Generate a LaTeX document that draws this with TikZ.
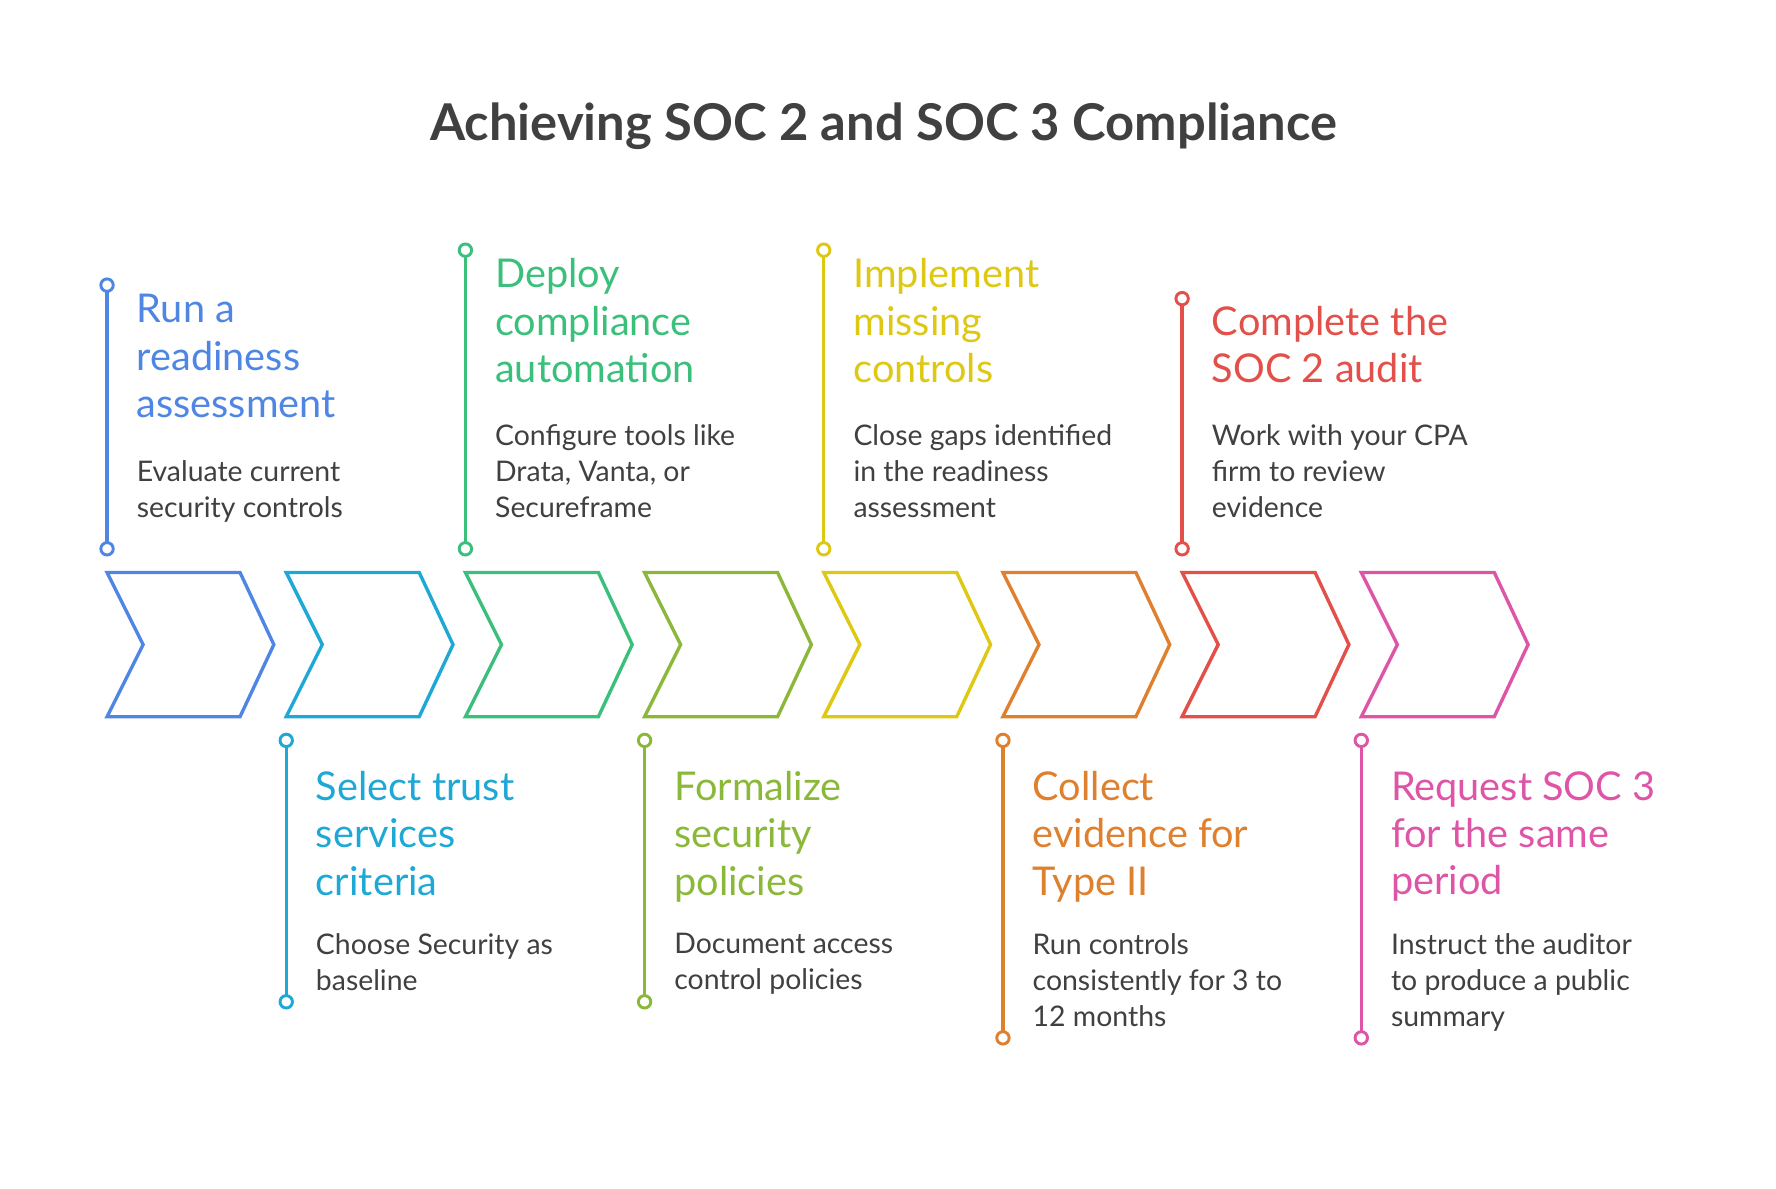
\documentclass[tikz,border=0pt]{standalone}
\usepackage{fontspec}
\setmainfont{Lato}
\definecolor{c1}{HTML}{4F86E4}
\definecolor{c2}{HTML}{1EA8D6}
\definecolor{c3}{HTML}{3BC07C}
\definecolor{c4}{HTML}{8CB83A}
\definecolor{c5}{HTML}{DEC814}
\definecolor{c6}{HTML}{DE802E}
\definecolor{c7}{HTML}{E35049}
\definecolor{c8}{HTML}{DE55A8}
\definecolor{txt}{HTML}{404040}
\tikzset{
 ttl/.style={anchor=north west,inner sep=0,align=left,font=\fontsize{17.6}{21}\selectfont},
 dsc/.style={anchor=north west,inner sep=0,align=left,text=txt,font=\fontsize{12.6}{16}\selectfont},
 stem/.style={line width=1.5pt},
 dot/.style={circle,line width=1.3pt,fill=white,inner sep=0,minimum size=5.5pt},
 chev/.style={line width=1.5pt,line join=miter}
}
\begin{document}
\begin{tikzpicture}[x=0.5pt,y=-0.5pt]
\useasboundingbox (0,0) rectangle (1576,1055);
\node[font=\fontsize{22.5}{26}\selectfont\bfseries,text=txt] (title) at (784,112) {Achieving SOC 2 and SOC 3 Compliance};
\foreach \i/\c in {0/c1,1/c2,2/c3,3/c4,4/c5,5/c6,6/c7,7/c8}{
  \pgfmathsetmacro{\l}{95+159*\i}
  \draw[chev,\c] (\l,508) -- ++(118,0) -- ++(30,64) -- ++(-30,64) -- ++(-118,0) -- ++(32,-64) -- cycle;
}
% top items
\foreach \x/\t/\c/\ty/\dy/\tt/\dd in {
 95/253/c1/261/408/{Run a\\readiness\\assessment}/{Evaluate current\\security controls},
 413/222/c3/229/376/{Deploy\\compliance\\automation}/{Configure tools like\\Drata, Vanta, or\\Secureframe},
 731/222/c5/229/376/{Implement\\missing\\controls}/{Close gaps identified\\in the readiness\\assessment},
 1049/265/c7/271/376/{Complete the\\SOC 2 audit}/{Work with your CPA\\firm to review\\evidence}}{
 \coordinate (a) at (\x,\t); \coordinate (b) at (\x,487);
 \draw[stem,\c] (a) -- (b);
 \node[dot,draw=\c] at (a) {}; \node[dot,draw=\c] at (b) {};
 \node[ttl,text=\c] at (\x+26,\ty) {\tt};
 \node[dsc] at (\x+26,\dy) {\dd};
}
% bottom items
\foreach \x/\e/\c/\tt/\dd in {
 254/889/c2/{Select trust\\services\\criteria}/{Choose Security as\\baseline},
 572/889/c4/{Formalize\\security\\policies}/{Document access\\control policies},
 890/921/c6/{Collect\\evidence for\\Type II}/{Run controls\\consistently for 3 to\\12 months},
 1208/921/c8/{Request SOC 3\\for the same\\period}/{Instruct the auditor\\to produce a public\\summary}}{
 \coordinate (a) at (\x,657); \coordinate (b) at (\x,\e);
 \draw[stem,\c] (a) -- (b);
 \node[dot,draw=\c] at (a) {}; \node[dot,draw=\c] at (b) {};
 \node[ttl,text=\c] at (\x+26,684) {\tt};
 \node[dsc] at (\x+26,828) {\dd};
}
\end{tikzpicture}
\end{document}
